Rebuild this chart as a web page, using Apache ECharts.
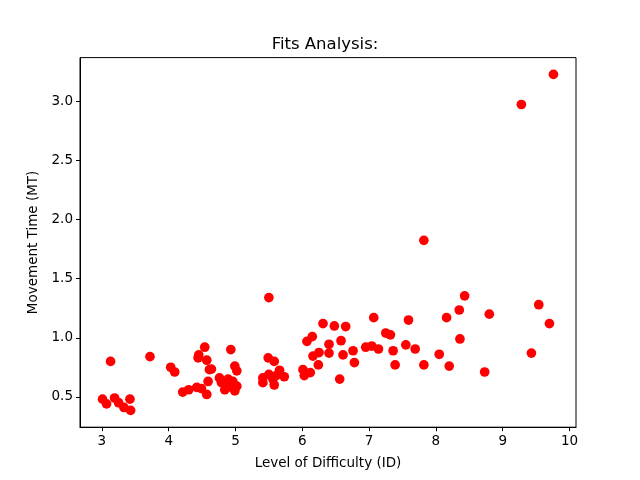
<!DOCTYPE html>
<html>
<head>
<meta charset="utf-8">
<script src="https://cdn.jsdelivr.net/npm/echarts@6/dist/echarts.min.js"></script>
<style>
  html, body { margin: 0; padding: 0; background: #fff; }
  #chart { width: 640px; height: 480px; }
</style>
</head>
<body>
<div id="chart"></div>
<script>
// Level of difficulty (ID) per trial
let difficulty = [
    3.01, 3.07, 3.13, 3.19, 3.25, 3.33, 3.42, 3.43, 3.72, 4.03,
    4.09, 4.21, 4.30, 4.42, 4.49, 4.45, 4.44, 4.54, 4.57, 4.61,
    4.64, 4.59, 4.57, 4.76, 4.79, 4.84, 4.87, 4.89, 4.94, 4.96,
    4.99, 5.02, 4.93, 4.99, 5.02, 5.50, 5.49, 5.58, 5.41, 5.41,
    5.50, 5.56, 5.58, 5.61, 5.66, 5.73, 6.01, 6.03, 6.12, 6.07,
    6.15, 6.16, 6.25, 6.24, 6.31, 6.48, 6.65, 6.40, 6.40, 6.58,
    6.61, 6.56, 6.76, 6.78, 6.95, 7.04, 7.14, 7.07, 7.25, 7.32,
    7.36, 7.39, 7.55, 7.59, 7.69, 7.82, 7.82, 8.05, 8.16, 8.20,
    8.35, 8.36, 8.43, 8.73, 8.80, 9.28, 9.43, 9.54, 9.70, 9.76
];
// Movement time (MT) per trial
let movementTime = [
    0.48, 0.44, 0.80, 0.49, 0.45, 0.41, 0.48, 0.385, 0.84, 0.75,
    0.71, 0.54, 0.56, 0.58, 0.57, 0.855, 0.83, 0.92, 0.81, 0.73,
    0.735, 0.63, 0.52, 0.66, 0.62, 0.56, 0.61, 0.65, 0.58, 0.63,
    0.55, 0.59, 0.90, 0.76, 0.72, 1.34, 0.83, 0.80, 0.66, 0.62,
    0.69, 0.65, 0.60, 0.68, 0.725, 0.67, 0.73, 0.68, 0.705, 0.97,
    1.01, 0.845, 0.875, 0.77, 1.12, 1.10, 1.095, 0.945, 0.87, 0.975,
    0.855, 0.65, 0.89, 0.79, 0.92, 0.93, 0.905, 1.17, 1.04, 1.025,
    0.89, 0.77, 0.94, 1.15, 0.905, 0.77, 1.825, 0.86, 1.17, 0.76,
    1.235, 0.99, 1.355, 0.71, 1.20, 2.975, 0.87, 1.28, 1.12, 3.23
];
let xTicks = [3, 4, 5, 6, 7, 8, 9, 10];
let yTicks = [0.5, 1.0, 1.5, 2.0, 2.5, 3.0];

let points = difficulty.map((d, i) => [d, movementTime[i]]);

// matplotlib-like 5% margins
function padded(values) {
    let lo = Math.min(...values), hi = Math.max(...values);
    let m = (hi - lo) * 0.05;
    return [lo - m, hi + m];
}
let xRange = padded(difficulty);
let yRange = padded(movementTime);

let font = 'DejaVu Sans';

let option = {
    animation: false,
    backgroundColor: '#fff',
    title: {
        text: 'Fits Analysis:',
        left: 320,
        top: 31,
        textAlign: 'center',
        textStyle: { fontFamily: font, fontSize: 16.5, fontWeight: 'normal', color: '#000' }
    },
    grid: {
        left: 80, right: 64, top: 57.6, bottom: 52.8,
        show: true, borderColor: '#000', borderWidth: 1
    },
    xAxis: {
        type: 'value',
        min: xRange[0],
        max: xRange[1],
        name: 'Level of Difficulty (ID)',
        nameLocation: 'middle',
        nameGap: 29,
        nameTextStyle: { fontFamily: font, fontSize: 13.5, color: '#000' },
        splitLine: { show: false },
        axisLine: { show: true, lineStyle: { color: '#000', width: 1 } },
        axisTick: { show: true, length: 4, customValues: xTicks, lineStyle: { color: '#000' } },
        axisLabel: {
            customValues: xTicks, margin: 7,
            fontFamily: font, fontSize: 13.5, color: '#000'
        }
    },
    yAxis: {
        type: 'value',
        min: yRange[0],
        max: yRange[1],
        name: 'Movement Time (MT)',
        nameLocation: 'middle',
        nameGap: 38,
        nameTextStyle: { fontFamily: font, fontSize: 13.5, color: '#000' },
        splitLine: { show: false },
        axisLine: { show: true, lineStyle: { color: '#000', width: 1 } },
        axisTick: { show: true, length: 4, customValues: yTicks, lineStyle: { color: '#000' } },
        axisLabel: {
            customValues: yTicks, margin: 7,
            fontFamily: font, fontSize: 13.5, color: '#000',
            formatter: v => v.toFixed(1)
        }
    },
    series: [{
        type: 'scatter',
        data: points,
        symbol: 'circle',
        symbolSize: 9.7,
        itemStyle: { color: '#ff0000', opacity: 1 }
    }]
};

let chart = echarts.init(document.getElementById('chart'));
chart.setOption(option);
</script>
</body>
</html>
